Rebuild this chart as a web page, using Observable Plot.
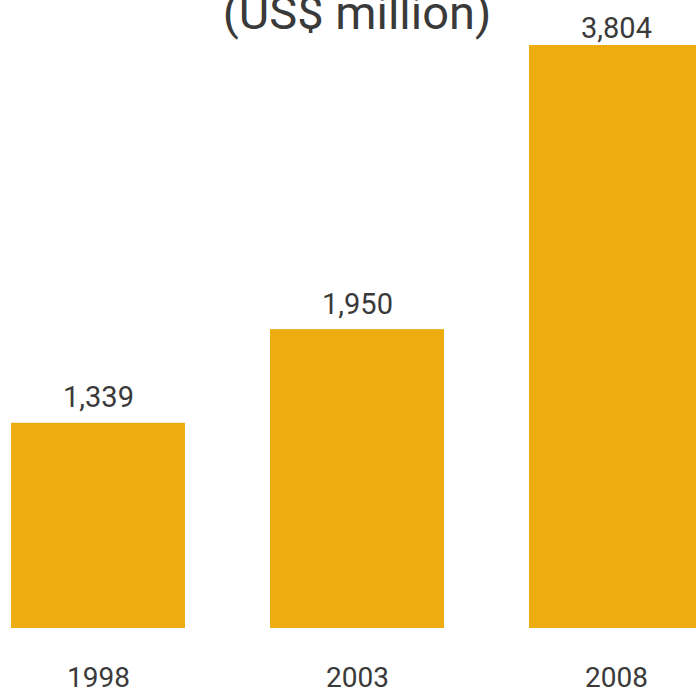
<!DOCTYPE html>
<html>
<head>
<meta charset="utf-8">
<script src="https://cdn.jsdelivr.net/npm/d3@7"></script>
<script src="https://cdn.jsdelivr.net/npm/@observablehq/plot@0.6"></script>
<style>
  html, body { margin: 0; padding: 0; background: #fff; overflow: hidden; width: 696px; height: 691px; }
  #chart { margin-left: -33px; width: 779px; }
  #chart svg { max-width: none !important; display: block; }
</style>
</head>
<body>
<div id="chart"></div>
<script>
const years = ["1998", "2003", "2008"];
const values = [1339, 1950, 3804];
const labels = ["1,339", "1,950", "3,804"];
const title = "(US$ million)";

const data = years.map((y, i) => ({year: y, value: values[i], label: labels[i]}));
const maxValue = d3.max(values);
// labels of bars that reach the top of the frame are pinned just inside the top
const fitsAbove = d => d.value / maxValue < 0.9;

const chart = Plot.plot({
  width: 779,
  height: 691,
  marginTop: 0,
  marginLeft: 0,
  marginRight: 0,
  marginBottom: 63,
  style: {fontFamily: "Roboto, 'Open Sans', sans-serif", color: "#3a3a3a", background: "#fff", maxWidth: "none"},
  x: {domain: years, paddingInner: 0.33, paddingOuter: 0.165, label: null},
  y: {domain: [0, maxValue], range: [628, 45], axis: null},
  marks: [
    Plot.barY(data, {x: "year", y: "value", fill: "#EDAD10"}),
    Plot.text(data, {filter: fitsAbove, x: "year", y: "value", text: "label", lineAnchor: "bottom", dy: -16, fontSize: 29, fill: "#3a3a3a"}),
    Plot.text(data, {filter: d => !fitsAbove(d), x: "year", frameAnchor: "top", text: "label", lineAnchor: "top", dy: 17, fontSize: 29, fill: "#3a3a3a"}),
    Plot.axisX({tickSize: 0, tickPadding: 39, fontSize: 28, label: null, fill: "#3a3a3a"}),
    Plot.text([title], {frameAnchor: "top", dy: 28, lineAnchor: "bottom", fontSize: 47, fill: "#3a3a3a"})
  ]
});
document.getElementById("chart").appendChild(chart);
</script>
</body>
</html>
